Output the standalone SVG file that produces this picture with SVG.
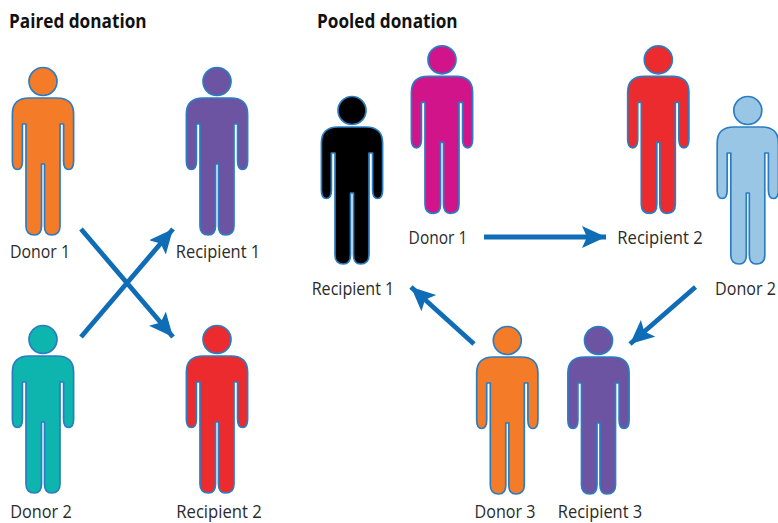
<svg xmlns="http://www.w3.org/2000/svg" width="778" height="523" viewBox="0 0 778 523">
<style>
.p{stroke:#2a7dc2;stroke-width:1.7;stroke-linejoin:round}
.t{font-family:"Open Sans","Liberation Sans",sans-serif;font-size:18.5px;font-weight:400;fill:#2b2b2b;text-anchor:middle}
.h{font-family:"Open Sans","Liberation Sans",sans-serif;font-size:20px;font-weight:700;fill:#111}
.c{stroke:#0f6cb6;stroke-width:4.8;fill:none;marker-end:url(#a)}
</style>
<defs>
<marker id="a" markerUnits="userSpaceOnUse" markerWidth="30" markerHeight="30" refX="24" refY="11" orient="auto"><path d="M0 0L24 11L0 22L5 11Z" fill="#0f6cb6"/></marker>
<g id="person"><circle cx="0" cy="-16.5" r="14"/><path d="M-14 0H14Q30.6 0 30.6 16V63Q30.6 71.5 25.6 71.5Q20.6 71.5 20.6 63V26H17V128Q17 137 8.5 137Q1.5 137 1.5 128V66H-1.5V128Q-1.5 137-8.5 137Q-17 137-17 128V26H-20.6V63Q-20.6 71.5-25.6 71.5Q-30.6 71.5-30.6 63V16Q-30.6 0-14 0Z"/></g>
</defs>
<rect width="778" height="523" fill="#fff"/>
<text class="h" transform="translate(9 28) scale(.86 1)">Paired donation</text>
<text class="h" transform="translate(317 28) scale(.86 1)">Pooled donation</text>
<g id="connectors">
<path class="c" d="M81 337L173 229"/>
<path class="c" d="M81 229L173 337"/>
<path class="c" d="M484 237H606"/>
<path class="c" d="M695.5 287L630 344"/>
<path class="c" d="M474 344L411 287"/>
</g>
<g id="paired-donor-1"><use class="p" href="#person" x="43" y="98" fill="#f47b28"/><text class="t" transform="translate(40 258) scale(.86 1)">Donor 1</text></g>
<g id="paired-recipient-1"><use class="p" href="#person" x="217" y="98" fill="#6c54a3"/><text class="t" transform="translate(218 258) scale(.89 1)">Recipient 1</text></g>
<g id="paired-donor-2"><use class="p" href="#person" x="43" y="356" fill="#0db5ae"/><text class="t" transform="translate(41 518) scale(.88 1)">Donor 2</text></g>
<g id="paired-recipient-2"><use class="p" href="#person" x="217" y="356" fill="#ec2b2e"/><text class="t" transform="translate(219 518) scale(.9 1)">Recipient 2</text></g>
<g id="pooled-recipient-1"><use class="p" href="#person" x="352" y="127" fill="#000"/><text class="t" transform="translate(353 295) scale(.87 1)">Recipient 1</text></g>
<g id="pooled-donor-1"><use class="p" href="#person" x="442" y="76.3" fill="#d1148a"/><text class="t" transform="translate(438 244) scale(.84 1)">Donor 1</text></g>
<g id="pooled-recipient-2"><use class="p" href="#person" x="658.3" y="76.3" fill="#ec2b2e"/><text class="t" transform="translate(660 244) scale(.9 1)">Recipient 2</text></g>
<g id="pooled-donor-2"><use class="p" href="#person" x="747.8" y="127" fill="#9ac6e6"/><text class="t" transform="translate(745.5 295) scale(.87 1)">Donor 2</text></g>
<g id="pooled-donor-3"><use class="p" href="#person" x="507.3" y="357" fill="#f47b28"/><text class="t" transform="translate(505 518) scale(.87 1)">Donor 3</text></g>
<g id="pooled-recipient-3"><use class="p" href="#person" x="598.5" y="357" fill="#6c54a3"/><text class="t" transform="translate(600 518) scale(.89 1)">Recipient 3</text></g>
</svg>
